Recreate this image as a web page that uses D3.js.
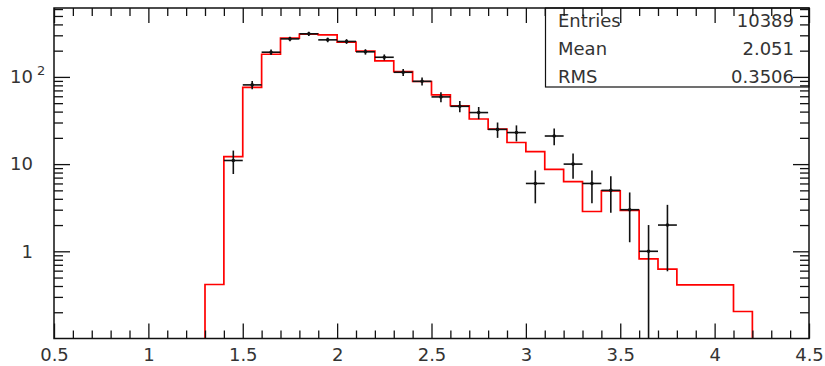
<!DOCTYPE html>
<html>
<head>
<meta charset="utf-8">
<script src="https://cdn.jsdelivr.net/npm/d3@7"></script>
<style>
    html, body { margin: 0; padding: 0; background: #fff; }
    svg { display: block; font-family: 'DejaVu Sans', sans-serif; }
</style>
</head>
<body>
<div id="chart"></div>
<script>
// MC histogram (red): lower bin edges and contents
const mcEdges = [1.3, 1.4, 1.5, 1.6, 1.7, 1.8, 1.9, 2.0, 2.1, 2.2, 2.3, 2.4, 2.5, 2.6, 2.7,
    2.8, 2.9, 3.0, 3.1, 3.2, 3.3, 3.4, 3.5, 3.6, 3.7, 3.8, 3.9, 4.0, 4.1, 4.2];
const mcCounts = [0.416, 12.2, 76, 182, 279, 310, 304, 251, 198, 153, 115, 88.6, 62.3, 46.7, 32.9,
    25.2, 17.7, 13.9, 8.7, 6.3, 2.86, 4.92, 2.94, 0.82, 0.625, 0.413, 0.413, 0.413, 0.204];

// data points (black): bin centres, contents, errors
const dataCenters = [1.45, 1.55, 1.65, 1.75, 1.85, 1.95, 2.05, 2.15, 2.25, 2.35, 2.45, 2.55,
    2.65, 2.75, 2.85, 2.95, 3.05, 3.15, 3.25, 3.35, 3.45, 3.55, 3.65, 3.75];
const dataCounts = [11, 81, 192, 273, 312, 266, 255, 194, 168, 113, 89, 59,
    46, 39, 25, 23, 6, 21, 10, 6, 5, 3, 1, 2];
const dataErrors = [3.3, 9, 13.9, 16.5, 17.7, 16.3, 16, 13.9, 13, 10.6, 9.4, 7.7,
    6.8, 6.2, 5, 4.8, 2.45, 4.6, 3.2, 2.45, 2.24, 1.73, 1, 1.41];
const binWidth = 0.1;

// axis ticks
const xMajor = [0.5, 1, 1.5, 2, 2.5, 3, 3.5, 4, 4.5];
const xMinor = d3.range(5, 46).map(i => i / 10).filter(v => !xMajor.some(m => Math.abs(m - v) < 1e-6));
const yMajor = [1, 10, 100];
const yMinor = [0.2, 0.3, 0.4, 0.5, 0.6, 0.7, 0.8, 0.9, 2, 3, 4, 5, 6, 7, 8, 9,
    20, 30, 40, 50, 60, 70, 80, 90, 200, 300, 400, 500, 600];

// stats box
const statLabels = ['Entries', 'Mean', 'RMS'];
const statValues = ['10389', '2.051', '0.3506'];

const width = 825;
const height = 366;
const frame = { left: 54, right: 809, top: 8, bottom: 338.5 };

const svg = d3.select('#chart')
    .append('svg')
    .attr('width', width)
    .attr('height', height);

const x = d3.scaleLinear().domain([0.5, 4.5]).range([frame.left, frame.right]);
const y = d3.scaleLog().domain([0.1, 617]).range([frame.bottom, frame.top]);
const yFloor = 0.1;

// MC histogram as a step outline
const mcPoints = [[mcEdges[0], yFloor]];
mcCounts.forEach((c, i) => {
    mcPoints.push([mcEdges[i], c]);
    mcPoints.push([mcEdges[i + 1], c]);
});
mcPoints.push([mcEdges[mcEdges.length - 1], yFloor]);

svg.append('path')
    .datum(mcPoints)
    .attr('fill', 'none')
    .attr('stroke', '#ff0000')
    .attr('stroke-width', 1.7)
    .attr('d', d3.line().x(d => x(d[0])).y(d => y(d[1])));

// data points with error bars
const points = dataCenters.map((c, i) => ({ c, n: dataCounts[i], e: dataErrors[i] }));
const pts = svg.append('g')
    .selectAll('g')
    .data(points)
    .enter()
    .append('g')
    .attr('stroke', '#111')
    .attr('stroke-width', 1.6);

pts.append('line')
    .attr('x1', d => x(d.c - binWidth / 2))
    .attr('x2', d => x(d.c + binWidth / 2))
    .attr('y1', d => y(d.n))
    .attr('y2', d => y(d.n));

pts.append('line')
    .attr('x1', d => x(d.c))
    .attr('x2', d => x(d.c))
    .attr('y1', d => y(d.n + d.e))
    .attr('y2', d => y(Math.max(d.n - d.e, yFloor)));

pts.append('circle')
    .attr('cx', d => x(d.c))
    .attr('cy', d => y(d.n))
    .attr('r', 1.8)
    .attr('fill', '#111')
    .attr('stroke', 'none');

// stats box
const stats = svg.append('g');
stats.append('rect')
    .attr('x', 545.5)
    .attr('y', frame.top)
    .attr('width', frame.right - 545.5)
    .attr('height', 87 - frame.top)
    .attr('fill', '#fff')
    .attr('stroke', '#111')
    .attr('stroke-width', 1.2);

const rowBase = [27, 55, 82.5];
stats.selectAll('text.lbl')
    .data(statLabels)
    .enter()
    .append('text')
    .attr('class', 'lbl')
    .attr('x', 558)
    .attr('y', (d, i) => rowBase[i])
    .attr('font-size', 18)
    .attr('fill', '#333')
    .text(d => d);

stats.selectAll('text.val')
    .data(statValues)
    .enter()
    .append('text')
    .attr('class', 'val')
    .attr('x', 794)
    .attr('y', (d, i) => rowBase[i])
    .attr('text-anchor', 'end')
    .attr('font-size', 18)
    .attr('fill', '#333')
    .text(d => d);

// axes: ticks on all four sides
function styleAxis(g) {
    g.select('.domain').remove();
    g.selectAll('line').attr('stroke', '#111').attr('stroke-width', 1.3);
}

svg.append('g')
    .attr('transform', `translate(0,${frame.bottom})`)
    .call(d3.axisBottom(x).tickValues(xMinor).tickSize(-8).tickFormat(''))
    .call(styleAxis);

svg.append('g')
    .attr('transform', `translate(0,${frame.bottom})`)
    .call(d3.axisBottom(x).tickValues(xMajor).tickSize(-15).tickPadding(9.5).tickFormat(d3.format('')))
    .call(styleAxis)
    .call(g => g.selectAll('text')
        .attr('font-size', 18)
        .attr('font-family', "'DejaVu Sans', sans-serif")
        .attr('fill', '#333'));

svg.append('g')
    .attr('transform', `translate(0,${frame.top})`)
    .call(d3.axisTop(x).tickValues(xMinor).tickSize(-8).tickFormat(''))
    .call(styleAxis);

svg.append('g')
    .attr('transform', `translate(0,${frame.top})`)
    .call(d3.axisTop(x).tickValues(xMajor).tickSize(-15).tickFormat(''))
    .call(styleAxis);

svg.append('g')
    .attr('transform', `translate(${frame.left},0)`)
    .call(d3.axisLeft(y).tickValues(yMinor).tickSize(-9).tickFormat(''))
    .call(styleAxis);

svg.append('g')
    .attr('transform', `translate(${frame.left},0)`)
    .call(d3.axisLeft(y).tickValues(yMajor).tickSize(-16).tickPadding(21)
        .tickFormat(d => d === 100 ? '10' : String(d)))
    .call(styleAxis)
    .call(g => g.selectAll('text')
        .attr('font-size', 18)
        .attr('font-family', "'DejaVu Sans', sans-serif")
        .attr('fill', '#333'));

// superscript for 10^2
svg.append('text')
    .attr('x', 37)
    .attr('y', y(100) - 2)
    .attr('font-size', 13)
    .attr('fill', '#333')
    .text('2');

svg.append('g')
    .attr('transform', `translate(${frame.right},0)`)
    .call(d3.axisRight(y).tickValues(yMinor).tickSize(-9).tickFormat(''))
    .call(styleAxis);

svg.append('g')
    .attr('transform', `translate(${frame.right},0)`)
    .call(d3.axisRight(y).tickValues(yMajor).tickSize(-16).tickFormat(''))
    .call(styleAxis);

// frame
svg.append('rect')
    .attr('x', frame.left)
    .attr('y', frame.top)
    .attr('width', frame.right - frame.left)
    .attr('height', frame.bottom - frame.top)
    .attr('fill', 'none')
    .attr('stroke', '#111')
    .attr('stroke-width', 1.5);
</script>
</body>
</html>
